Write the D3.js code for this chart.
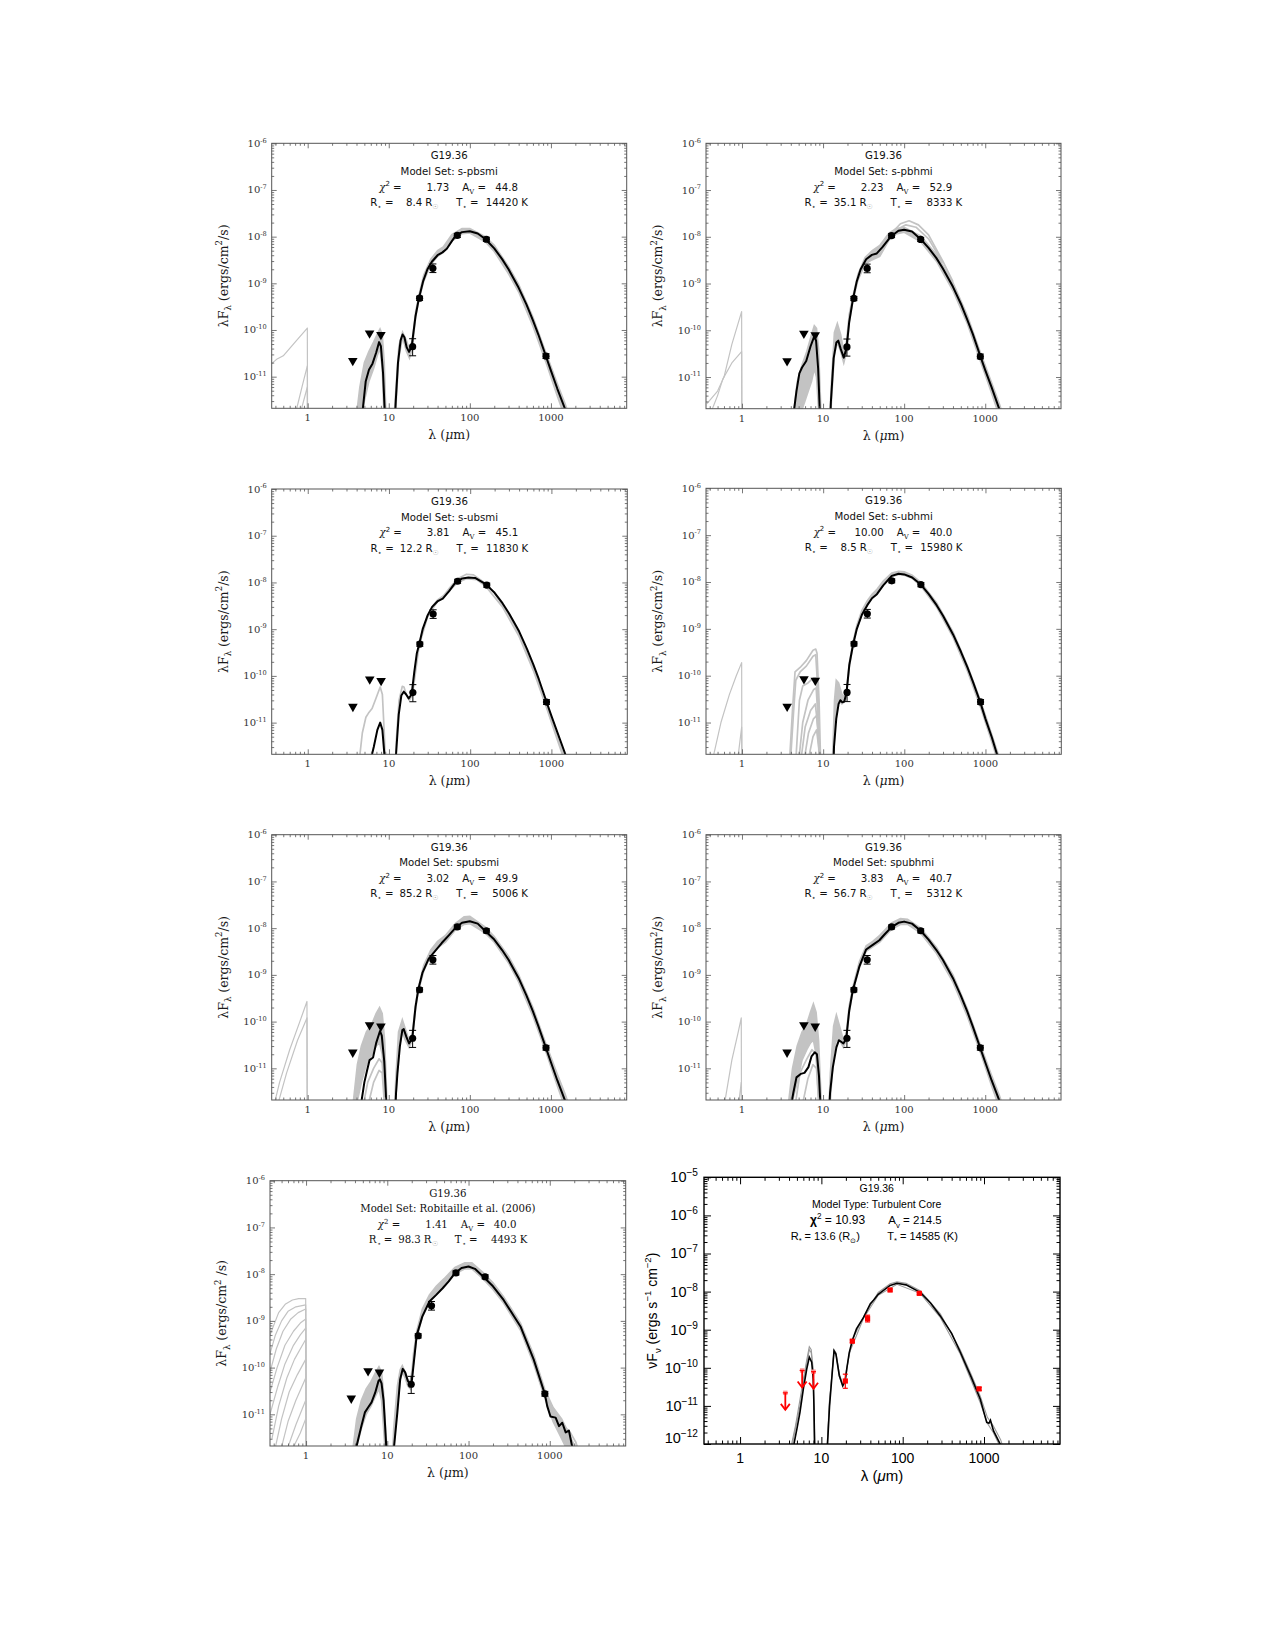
<!DOCTYPE html>
<html>
<head>
<meta charset="utf-8">
<script src="https://cdnjs.cloudflare.com/ajax/libs/d3/7.8.5/d3.min.js"></script>
<style>
body { margin: 0; background: #fff; }
text { white-space: pre; }
</style>
</head>
<body>
<svg id="fig" width="1275" height="1650"></svg>
<script>
/*global d3*/
// ---------- observations (shared by the Robitaille-fitter panels) ----------
var limWave = [3.6, 5.8, 8.0],
    limFlux = [2.2e-11, 8.5e-11, 7.9e-11],
    obsWave = [19.7, 24, 35, 70, 160, 870],
    obsFlux = [4.4e-11, 4.8e-10, 2.1e-9, 1.06e-8, 8.8e-9, 2.75e-11],
    obsLo = [2.8e-11, 4.3e-10, 1.7e-9, 9.6e-9, 7.9e-9, 2.45e-11],
    obsHi = [6.5e-11, 5.3e-10, 2.6e-9, 1.17e-8, 9.7e-9, 3.1e-11];

// observations as plotted by the turbulent core fitter
var ztWave = [19.7, 24, 37, 70, 160, 870],
    ztFlux = [4.5e-11, 5.0e-10, 1.95e-9, 1.1e-8, 9.0e-9, 2.8e-11],
    ztLo = [2.9e-11, 4.6e-10, 1.6e-9, 1.03e-8, 8.5e-9, 2.55e-11],
    ztHi = [6.8e-11, 5.4e-10, 2.4e-9, 1.17e-8, 9.5e-9, 3.05e-11];

// ---------- fit annotations ----------
var sourceName = "G19.36",
    modelSets = ["s-pbsmi", "s-pbhmi", "s-ubsmi", "s-ubhmi", "spubsmi", "spubhmi", "Robitaille et al. (2006)"],
    chi2 = ["1.73", "2.23", "3.81", "10.00", "3.02", "3.83", "1.41"],
    avFit = ["44.8", "52.9", "45.1", "40.0", "49.9", "40.7", "40.0"],
    rStar = ["8.4", "35.1", "12.2", "8.5", "85.2", "56.7", "98.3"],
    tStar = ["14420", "8333", "11830", "15980", "5006", "5312", "4493"],
    ztType = "Turbulent Core", ztChi2 = "10.93", ztAv = "214.5", ztR = "13.6", ztT = "14585";

// ---------- tick labels ----------
var xMajor = [1, 10, 100, 1000],
    yExpSed = [-6, -7, -8, -9, -10, -11],
    yExpZt = [-5, -6, -7, -8, -9, -10, -11, -12];

// ---------- panel 1 : s-pbsmi ----------
var best1 = [[4.7,1.5e-12],[5.2,8e-12],[5.7,1.4e-11],[6.3,1.9e-11],[7.0,3.3e-11],[7.6,5.5e-11],[8.0,4.5e-11],[8.5,1.2e-11],[8.9,2e-12],[9.3,5e-13],
    [11.6,5e-13],[12.2,3e-12],[13.0,2e-11],[14.0,6e-11],[14.8,8e-11],[15.6,7e-11],[16.6,4.3e-11],[17.8,3.4e-11],[19.2,4.5e-11],[21.4,2e-10],[23.5,4.7e-10],
    [26.5,1.1e-9],[30,2e-9],[34,2.9e-9],[40,4e-9],[46,4.6e-9],[52,5.5e-9],[60,8e-9],[67,1.05e-8],[80,1.25e-8],[100,1.3e-8],[125,1.17e-8],[155,8.9e-9],
    [200,5.6e-9],[250,3.3e-9],[300,2e-9],[400,8e-10],[500,3.5e-10],[600,1.6e-10],[700,8e-11],[870,2.7e-11],[1000,1.35e-11],[1200,5.5e-12],[1500,2e-12],[1700,1e-12]];
var band1 = [[4.0,1e-12,1.5e-12],[4.4,1e-12,6e-12],[5.0,3e-12,2e-11],[5.7,8e-12,3.5e-11],[6.5,1.5e-11,5.5e-11],[7.3,3e-11,8.5e-11],[7.8,4e-11,1.05e-10],[8.3,1.5e-11,8e-11],[8.8,1e-12,2e-11],[9.3,5e-13,1e-12],
    [11.5,5e-13,1e-12],[12.2,2e-12,5e-12],[13.3,2.5e-11,4.5e-11],[14.8,7e-11,9e-11],[16.5,3.5e-11,6e-11],[18,2.5e-11,3.8e-11],[19.5,4e-11,6e-11],[21.4,1.8e-10,2.4e-10],
    [23.5,4.3e-10,5.5e-10],[27,1.1e-9,1.5e-9],[33,2.5e-9,3.3e-9],[40,3.8e-9,5e-9],[47,4.6e-9,6e-9],[60,8e-9,1.1e-8],[80,1.15e-8,1.5e-8],[100,1.2e-8,1.5e-8],
    [155,7.8e-9,1e-8],[200,4.8e-9,6.5e-9],[300,1.6e-9,2.3e-9],[400,6.5e-10,9.5e-10],[600,1.2e-10,1.9e-10],[870,2e-11,3.2e-11],[1200,3.8e-12,7e-12],[1500,1.3e-12,2.6e-12],[1800,5e-13,1e-12]];
var grey1 = [
    [[0.36,1.9e-11],[0.42,2.4e-11],[0.5,2.8e-11],[0.7,5.5e-11],[0.99,1.1e-10],[1.0,1e-13]],
    [[0.7,1.5e-12],[0.85,6e-12],[0.99,1.7e-11],[1.0,1e-13]],
    [[0.8,1.5e-12],[0.99,6e-12],[1.0,1e-13]]];

// ---------- panel 2 : s-pbhmi ----------
var best2 = [[4.3,1.5e-12],[4.7,5e-12],[5.1,1.2e-11],[5.5,1.6e-11],[6.2,2.2e-11],[7.0,4.5e-11],[7.8,7.5e-11],[8.2,6e-11],[8.7,1.5e-11],[9.1,2e-12],[9.5,5e-13],
    [12,5e-13],[12.5,3e-12],[13.5,2.5e-11],[14.6,5.5e-11],[15.4,6e-11],[16.5,4e-11],[18,2.6e-11],[19.5,4.2e-11],[21,1.5e-10],[23.4,4.7e-10],[26,1.1e-9],
    [29,2e-9],[34,3.3e-9],[40,4.1e-9],[46,4.4e-9],[54,6e-9],[68,1e-8],[85,1.35e-8],[100,1.42e-8],[125,1.3e-8],[160,8.9e-9],[200,5.8e-9],[250,3.5e-9],
    [300,2.1e-9],[400,8.5e-10],[500,3.7e-10],[600,1.7e-10],[700,8.5e-11],[870,2.8e-11],[1000,1.4e-11],[1200,6e-12],[1500,2e-12],[1700,1e-12]];
var band2 = [[4.3,1e-12,1.5e-12],[4.8,1e-12,8e-12],[5.5,2e-12,1.8e-11],[6.3,4e-12,3.5e-11],[7.2,8e-12,8e-11],[7.8,1.5e-11,1.25e-10],[8.3,1e-11,1.1e-10],[8.8,2e-12,4e-11],[9.4,5e-13,2e-12],
    [12,5e-13,1e-12],[12.7,3e-12,8e-12],[13.8,3e-11,9e-11],[15,5.5e-11,1.4e-10],[16.5,3.5e-11,8e-11],[18,2e-11,3.5e-11],[19.5,3.5e-11,6e-11],[21,1.4e-10,2.2e-10],
    [23.4,4.3e-10,5.5e-10],[27,1.2e-9,1.6e-9],[33,2.6e-9,3.6e-9],[40,3.2e-9,5e-9],[50,3.8e-9,6.5e-9],[65,8.5e-9,1.2e-8],[80,1.15e-8,1.5e-8],[100,1.25e-8,1.6e-8],
    [160,7.8e-9,1.05e-8],[250,3e-9,4.2e-9],[400,7e-10,1.05e-9],[600,1.4e-10,2.1e-10],[870,2.2e-11,3.4e-11],[1200,4.5e-12,7.5e-12],[1500,1.4e-12,2.6e-12],[1800,5e-13,1e-12]];
var grey2 = [
    [[0.37,2.7e-12],[0.5,5e-12],[0.6,1e-11],[0.75,5e-11],[0.99,2.5e-10],[1.0,1e-13]],
    [[0.4,1.5e-12],[0.5,4e-12],[0.58,9e-12],[0.75,2e-11],[0.99,3.5e-11],[1.0,1e-13]],
    [[40,4e-9],[55,6e-9],[70,1.2e-8],[90,1.9e-8],[115,2.2e-8],[150,1.8e-8],[200,1.1e-8],[300,3e-9],[400,1.1e-9]],
    [[45,4.5e-9],[60,8e-9],[80,1.4e-8],[105,1.8e-8],[140,1.6e-8],[200,9e-9],[300,2.8e-9]]];

// ---------- panel 3 : s-ubsmi ----------
var best3 = [[5.9,1.5e-12],[6.5,3e-12],[7.2,7e-12],[7.8,1e-11],[8.3,7e-12],[8.8,2e-12],[9.1,5e-13],
    [11.8,5e-13],[12.2,2e-12],[13.2,1.5e-11],[14.2,3.8e-11],[15.2,4.6e-11],[16.3,4e-11],[17.5,3.3e-11],[19,4e-11],[20.5,1.2e-10],[22,3e-10],[23.5,4.7e-10],
    [26,1e-9],[30,2e-9],[34,3e-9],[40,4e-9],[46,4.5e-9],[55,6.5e-9],[66,1e-8],[80,1.22e-8],[95,1.28e-8],[115,1.25e-8],[155,9.2e-9],[200,6e-9],[250,3.6e-9],
    [300,2.2e-9],[400,9e-10],[500,3.8e-10],[600,1.75e-10],[700,8.5e-11],[870,2.8e-11],[1000,1.4e-11],[1200,5.8e-12],[1500,2e-12],[1700,1e-12]];
var band3 = [];
var grey3 = [
    [[4.3,1.5e-12],[4.7,6e-12],[5.2,1.3e-11],[5.6,1.6e-11],[6.2,2e-11],[7.0,3.5e-11],[7.8,5.8e-11],[8.3,4e-11],[8.8,5e-12],[9.1,1e-12],[9.5,4e-13],
     [11.8,4e-13],[12.3,4e-12],[13.3,3e-11],[14.6,6e-11],[15.3,5.8e-11],[16.5,3.8e-11],[17.8,3e-11],[19.5,4e-11],[21,1.5e-10],[23.5,4.5e-10],[26,9.5e-10],
     [30,1.9e-9],[35,3.2e-9],[40,4.3e-9],[47,5.2e-9],[57,8e-9],[70,1.2e-8],[90,1.5e-8],[110,1.45e-8],[155,9.5e-9],[200,5.9e-9],[250,3.3e-9],[300,2e-9],
     [400,7.8e-10],[600,1.45e-10],[870,2.3e-11],[1000,1.1e-11],[1200,4.5e-12],[1500,1.5e-12],[1700,7e-13]],
    [[19.5,4e-11],[23.5,4.4e-10],[30,1.9e-9],[40,4e-9],[55,6.5e-9],[70,1e-8],[90,1.2e-8],[120,1.15e-8],[155,8.3e-9],[250,3e-9],[400,7e-10],[600,1.3e-10],
     [870,2.1e-11],[1200,4e-12],[1500,1.3e-12]]];

// ---------- panel 4 : s-ubhmi ----------
var best4 = [[13.2,5e-13],[13.6,3e-12],[14.5,1.2e-11],[15.5,2.5e-11],[16.3,3e-11],[17.2,2.7e-11],[18.2,2.8e-11],[19.4,4.3e-11],[21,1.7e-10],[23.4,4.7e-10],
    [26,1e-9],[30,2e-9],[35,3.2e-9],[40,4.5e-9],[46,5.5e-9],[55,8.5e-9],[70,1.35e-8],[85,1.5e-8],[100,1.45e-8],[125,1.25e-8],[160,8.8e-9],[200,5.5e-9],
    [250,3.2e-9],[300,1.9e-9],[400,7.5e-10],[500,3.2e-10],[600,1.5e-10],[700,7.5e-11],[870,2.6e-11],[1000,1.2e-11],[1200,4.8e-12],[1400,2e-12],[1600,9e-13]];
var band4 = [[12.8,5e-13,1e-12],[13.2,1e-12,3e-12],[13.8,5e-12,3e-11],[14.5,2e-11,8e-11],[15.5,3e-11,7e-11],[17,2.5e-11,4e-11],[18.5,2.8e-11,3.5e-11],[19.4,4e-11,5e-11],
    [21,1.5e-10,1.9e-10],[23.4,4.4e-10,5.3e-10],[26,1e-9,1.2e-9],[30,2e-9,2.5e-9],[35,3.3e-9,4e-9],[40,4.6e-9,5.5e-9],[46,5.8e-9,7e-9],[55,8.5e-9,1.05e-8],
    [70,1.3e-8,1.55e-8],[85,1.45e-8,1.7e-8],[100,1.4e-8,1.65e-8],[125,1.2e-8,1.4e-8],[160,8.2e-9,9.8e-9],[250,2.9e-9,3.6e-9],[400,6.5e-10,8.5e-10],
    [600,1.25e-10,1.65e-10],[870,2.1e-11,2.9e-11],[1200,3.8e-12,5.5e-12],[1400,1.6e-12,2.4e-12],[1700,5e-13,9e-13]];
var grey4 = [
    [[0.43,1.5e-12],[0.55,1e-11],[0.7,4e-11],[0.85,1e-10],[0.99,1.9e-10],[1.0,1e-13]],
    [[0.88,1.5e-12],[0.99,8e-12],[1.0,1e-13]],
    [[3.8,1e-12],[4.2,2e-11],[4.5,1.2e-10],[5.2,1.5e-10],[6.2,2.1e-10],[7.5,3.5e-10],[8.1,3.7e-10],[8.4,3e-10],[8.9,3e-11],[9.3,1.5e-12]],
    [[3.9,1e-12],[4.3,1.5e-11],[4.6,8e-11],[5.2,1.2e-10],[6.2,1.6e-10],[7.5,2.6e-10],[8.1,2.8e-10],[8.6,5e-11],[9.1,1.5e-12]],
    [[4.6,1.5e-12],[5.1,3e-11],[5.6,6e-11],[6.5,7e-11],[7.6,9e-11],[8.2,9e-11],[8.7,2e-11],[9.1,1.5e-12]],
    [[5.0,1.5e-12],[5.6,1e-11],[6.5,3e-11],[7.6,5e-11],[8.2,5.5e-11],[8.7,1e-11],[9.1,1.5e-12]],
    [[5.3,1.5e-12],[6.0,8e-12],[7.0,1.8e-11],[8.0,2.5e-11],[8.6,8e-12],[9.0,1.5e-12]],
    [[5.8,1.5e-12],[6.6,6e-12],[7.6,1.2e-11],[8.3,1.4e-11],[8.8,4e-12],[9.1,1.5e-12]],
    [[6.5,1.5e-12],[7.5,5e-12],[8.3,7e-12],[8.8,3e-12],[9.0,1.5e-12]]];

// ---------- panel 5 : spubsmi ----------
var best5 = [[4.5,1.5e-12],[5.0,5e-12],[5.4,9e-12],[5.8,1.5e-11],[6.4,1.7e-11],[7.0,3.5e-11],[7.8,6.3e-11],[8.2,5e-11],[8.8,1.4e-11],[9.2,3e-12],[9.5,5e-13],
    [11.8,5e-13],[12.3,3e-12],[12.8,8e-12],[13.7,2.9e-11],[14.7,6.6e-11],[15.3,6.9e-11],[16.5,4.7e-11],[17.8,3.4e-11],[19.5,4.4e-11],[21.4,2.1e-10],[23.2,5e-10],
    [26,1.1e-9],[31,2.2e-9],[37,3.2e-9],[45,4.8e-9],[55,7e-9],[66,1e-8],[80,1.3e-8],[100,1.4e-8],[125,1.25e-8],[155,8.7e-9],[200,5.7e-9],[250,3.4e-9],
    [300,2.1e-9],[400,8.5e-10],[500,3.6e-10],[600,1.65e-10],[700,8e-11],[870,2.7e-11],[1000,1.35e-11],[1200,5.5e-12],[1500,2e-12],[1700,1e-12]];
var band5 = [[3.6,1e-12,1.5e-12],[4.1,2e-12,1.2e-11],[4.6,5e-12,3e-11],[5.3,1.2e-11,6e-11],[6.2,2e-11,9e-11],[7.0,3e-11,1.5e-10],[7.7,3.5e-11,2e-10],[8.3,2e-11,1.5e-10],[8.9,2e-12,4e-11],[9.5,5e-13,2e-12],
    [11.7,5e-13,1e-12],[12.2,2e-12,6e-12],[13.2,2.5e-11,6e-11],[14.7,6e-11,1.1e-10],[16,4e-11,7e-11],[17.8,2.8e-11,4e-11],[19.5,4e-11,5.5e-11],[21.4,1.8e-10,2.4e-10],
    [23.2,4.5e-10,5.5e-10],[27,1.2e-9,1.6e-9],[33,2.6e-9,3.4e-9],[40,3.8e-9,5.2e-9],[50,5e-9,7e-9],[66,9e-9,1.25e-8],[85,1.2e-8,1.75e-8],[100,1.25e-8,1.8e-8],
    [155,7.8e-9,1.05e-8],[200,5e-9,6.6e-9],[300,1.8e-9,2.5e-9],[400,7e-10,1e-9],[600,1.3e-10,2e-10],[870,2.2e-11,3.3e-11],[1200,4.2e-12,7.5e-12],[1500,1.4e-12,2.8e-12],[1800,5e-13,1.1e-12]];
var grey5 = [
    [[0.38,1.5e-12],[0.45,5e-12],[0.6,2.5e-11],[0.8,1e-10],[0.98,2.7e-10],[0.99,1e-13]],
    [[0.42,1.5e-12],[0.55,8e-12],[0.75,4e-11],[0.98,1.2e-10],[0.99,1e-13]],
    [[4.8,1.5e-12],[5.5,5e-12],[6.5,1e-11],[7.6,1.6e-11],[8.3,1.3e-11],[8.8,3e-12],[9.0,1.5e-12]],
    [[5.5,1.5e-12],[6.5,5e-12],[7.6,9e-12],[8.3,8e-12],[8.9,1.5e-12]]];

// ---------- panel 6 : spubhmi ----------
var best6 = [[4.0,1.5e-12],[4.3,3e-12],[4.7,6.4e-12],[5.3,7.6e-12],[5.9,8e-12],[6.6,1.06e-11],[7.2,1.8e-11],[7.9,2.2e-11],[8.4,2e-11],[8.9,7e-12],[9.3,1.5e-12],[9.6,5e-13],
    [11.6,5e-13],[12.2,3e-12],[13.2,1.05e-11],[14.6,2.8e-11],[15.7,4e-11],[16.7,3.7e-11],[17.8,3.4e-11],[19.3,4.3e-11],[21,1.7e-10],[23.3,4.7e-10],[28,1.5e-9],
    [34,3.5e-9],[41,4.4e-9],[49.5,5.5e-9],[58,7.5e-9],[70,1.05e-8],[85,1.3e-8],[100,1.38e-8],[125,1.25e-8],[160,8.8e-9],[200,5.7e-9],[250,3.4e-9],[300,2.1e-9],
    [400,8.5e-10],[500,3.6e-10],[600,1.65e-10],[700,8e-11],[870,2.7e-11],[1000,1.35e-11],[1200,5.5e-12],[1500,2e-12],[1700,1e-12]];
var band6 = [[3.7,1e-12,1.5e-12],[4.2,2e-12,1e-11],[4.8,5e-12,3e-11],[5.5,1.5e-11,6e-11],[6.3,2.5e-11,9e-11],[7.0,3.5e-11,1.6e-10],[7.6,4e-11,2.4e-10],[8.2,2e-11,1.6e-10],[8.8,2e-12,4e-11],[9.5,5e-13,2e-12],
    [11.7,5e-13,1e-12],[12.3,2e-12,8e-12],[13.5,2e-11,8e-11],[14.6,4e-11,1.4e-10],[16,4e-11,8e-11],[17.8,2.8e-11,4e-11],[19.3,4e-11,5.5e-11],[21,1.5e-10,2.2e-10],
    [23.3,4.3e-10,5.5e-10],[28,1.4e-9,1.9e-9],[34,3.2e-9,4.2e-9],[41,4e-9,5.2e-9],[50,5e-9,7e-9],[70,9.5e-9,1.3e-8],[90,1.2e-8,1.6e-8],[110,1.2e-8,1.55e-8],
    [160,7.8e-9,1e-8],[250,2.9e-9,3.9e-9],[400,7e-10,1e-9],[600,1.3e-10,1.9e-10],[870,2.2e-11,3.2e-11],[1200,4.2e-12,7e-12],[1500,1.4e-12,2.6e-12],[1800,5e-13,1e-12]];
var grey6 = [
    [[0.6,1.5e-12],[0.75,1.5e-11],[0.9,6e-11],[0.98,1.2e-10],[0.99,1e-13]],
    [[0.9,1.5e-12],[0.98,5e-12],[0.99,1e-13]],
    [[4.5,1.5e-12],[5.2,8e-12],[6.2,1.5e-11],[7.3,2.5e-11],[8.2,2e-11],[8.9,3e-12],[9.1,1.5e-12]],
    [[5.5,1.5e-12],[6.5,6e-12],[7.5,1.2e-11],[8.3,1e-11],[8.9,1.5e-12]]];

// ---------- panel 7 : Robitaille et al. (2006) ----------
var best7 = [[4.0,1.5e-12],[4.4,3e-12],[4.8,5.6e-12],[5.3,1.1e-11],[5.8,1.4e-11],[6.4,1.8e-11],[7.1,2.9e-11],[7.8,5.2e-11],[8.1,5.6e-11],[8.5,4.6e-11],[9.0,2e-11],[9.4,5.6e-12],[9.8,1.5e-12],[10.2,5e-13],
    [11.7,5e-13],[12.1,2e-12],[13.3,1.1e-11],[14.4,5.6e-11],[15.5,9.4e-11],[16.6,7.9e-11],[17.9,5.2e-11],[19.2,4.4e-11],[20,5e-11],[21,1.1e-10],[23,4.9e-10],
    [27,1.25e-9],[33,2.6e-9],[40,3.6e-9],[48,5e-9],[57,7e-9],[68,1.05e-8],[82,1.35e-8],[100,1.46e-8],[120,1.3e-8],[150,9e-9],[200,5.5e-9],[270,2.8e-9],
    [436,7.6e-10],[633,1.5e-10],[870,2.7e-11],[930,1.5e-11],[1020,9e-12],[1180,8.5e-12],[1300,5.6e-12],[1425,6.6e-12],[1570,4.1e-12],[1720,4.5e-12],[1890,2e-12],[2000,1e-12]];
var band7 = [[3.8,1e-12,2e-12],[4.2,2e-12,8e-12],[4.8,5e-12,2e-11],[5.5,1e-11,3.5e-11],[6.3,1.5e-11,5e-11],[7.2,2.5e-11,8e-11],[7.9,3.5e-11,1.05e-10],[8.5,2e-11,8e-11],[9.0,5e-12,3e-11],[9.6,1e-12,4e-12],[10.2,5e-13,1e-12],
    [11.5,5e-13,1e-12],[12,2e-12,5e-12],[13.3,1.5e-11,4e-11],[14.4,5e-11,9e-11],[15.3,8e-11,1.1e-10],[16.6,6e-11,8e-11],[17.9,4e-11,5.5e-11],[19.2,3.5e-11,5e-11],
    [20.2,6e-11,9e-11],[21,1.2e-10,2e-10],[23,4.3e-10,6e-10],[27,1.2e-9,1.8e-9],[33,2.6e-9,3.6e-9],[40,3.6e-9,5.5e-9],[50,5.5e-9,8e-9],[68,1e-8,1.4e-8],
    [90,1.3e-8,1.75e-8],[110,1.3e-8,1.75e-8],[150,8e-9,1.1e-8],[200,4.7e-9,6.5e-9],[270,2.4e-9,3.3e-9],[436,6.3e-10,9e-10],[633,1.2e-10,1.9e-10],
    [870,2.2e-11,3.4e-11],[1100,7e-12,1.4e-11],[1400,3e-12,8e-12],[1700,1.5e-12,4e-12],[2000,1e-12,2.2e-12],[2300,5e-13,1e-12]];
var grey7 = [
    [[0.36,5e-10],[0.4,8e-10],[0.46,1.5e-9],[0.56,2.3e-9],[0.68,2.8e-9],[0.81,3e-9],[0.99,3e-9],[1.0,1e-13]],
    [[0.36,2e-10],[0.42,5e-10],[0.5,1e-9],[0.6,1.6e-9],[0.75,2e-9],[0.99,2.2e-9],[1.0,1e-13]],
    [[0.36,8e-11],[0.43,2.5e-10],[0.52,6e-10],[0.65,1.1e-9],[0.8,1.5e-9],[0.99,1.8e-9],[1.0,1e-13]],
    [[0.36,3e-11],[0.44,1e-10],[0.55,3e-10],[0.7,6e-10],[0.85,9e-10],[0.99,1.1e-9],[1.0,1e-13]],
    [[0.36,1e-11],[0.45,4e-11],[0.55,1.2e-10],[0.7,3e-10],[0.85,5e-10],[0.99,7e-10],[1.0,1e-13]],
    [[0.38,3e-12],[0.46,1.5e-11],[0.58,6e-11],[0.72,1.5e-10],[0.88,2.8e-10],[0.99,4e-10],[1.0,1e-13]],
    [[0.42,2e-12],[0.5,8e-12],[0.62,3e-11],[0.78,7e-11],[0.99,1.5e-10],[1.0,1e-13]],
    [[0.5,2e-12],[0.6,7e-12],[0.75,2e-11],[0.99,6e-11],[1.0,1e-13]],
    [[0.6,2e-12],[0.75,6e-12],[0.99,2e-11],[1.0,1e-13]],
    [[0.7,2e-12],[0.85,4e-12],[0.99,8e-12],[1.0,1e-13]],
    [[870,3e-11],[1000,1.8e-11],[1200,1e-11],[1400,7e-12],[1600,5e-12],[1800,4e-12],[2100,2.5e-12],[2300,1.5e-12]]];

// ---------- panel 8 : turbulent core ----------
var best8 = [[4.6,1e-12],[5.0,2.5e-12],[5.45,6.8e-12],[6.0,2.8e-11],[6.6,9.3e-11],[7.1,1.9e-10],[7.6,1.4e-10],[7.95,5e-11],[8.1,1e-11],[8.25,1e-12],[8.4,3e-13],
    [11.6,3e-13],[11.9,1e-12],[12.6,1e-11],[13.4,5.1e-11],[14.3,2.8e-10],[15.1,2.3e-10],[16.6,6.3e-11],[18.3,3.4e-11],[19.6,4.5e-11],[20.5,9.3e-11],[22,2.5e-10],
    [24,5.2e-10],[27,1.05e-9],[33,2.1e-9],[40,4.8e-9],[44,6e-9],[50,8.5e-9],[70,1.45e-8],[85,1.65e-8],[110,1.5e-8],[164,9.6e-9],[220,5e-9],[290,2.3e-9],
    [400,8e-10],[510,2.6e-10],[700,5.5e-11],[900,1.5e-11],[1080,3.7e-12],[1150,3.5e-12],[1200,4.2e-12],[1310,2.2e-12],[1580,1e-12],[1700,6e-13]];
var grey8 = [
    [[4.3,1e-12],[4.8,3e-12],[5.4,1.3e-11],[6.0,5e-11],[6.6,1.6e-10],[7.1,3.6e-10],[7.5,3e-10],[7.9,1e-10],[8.1,1e-11],[8.3,1e-12],[8.5,3e-13],
     [11.5,3e-13],[11.8,1e-12],[12.5,1.2e-11],[13.4,6e-11],[14.3,3e-10],[15.1,2.5e-10],[16.6,7e-11],[18.3,3.6e-11],[19.6,4.8e-11],[20.5,1e-10],[24,5.4e-10],
     [33,2.2e-9],[50,9.5e-9],[70,1.6e-8],[85,1.8e-8],[110,1.65e-8],[164,1.05e-8],[290,2.6e-9],[510,3e-10],[700,6.5e-11],[900,1.8e-11],[1100,5e-12],[1300,3e-12],[1600,1.3e-12],[1800,6e-13]],
    [[4.4,1e-12],[5.0,4e-12],[5.5,1.1e-11],[6.0,4e-11],[6.6,1.3e-10],[7.1,3e-10],[7.5,2.5e-10],[7.9,8e-11],[8.2,1e-12],[8.4,3e-13],
     [11.6,3e-13],[12,2e-12],[12.8,1.8e-11],[13.6,8e-11],[14.3,2.6e-10],[15.2,2.1e-10],[16.6,6e-11],[18.3,3.2e-11],[19.6,4.3e-11],[22,2.4e-10],[33,2e-9],
     [50,8e-9],[85,1.55e-8],[164,9e-9],[290,2.1e-9],[510,2.3e-10],[700,4.5e-11],[900,1.2e-11],[1100,3.5e-12],[1300,2e-12],[1600,8e-13]]];

// ---------- layout ----------
var SERIF = "'DejaVu Serif', serif",
    SANS = "'DejaVu Sans', sans-serif",
    HERSHEY = "'Liberation Sans', sans-serif",
    GREY = "#c3c3c3",
    xDomain = [0.36, 8600],
    sedYDomain = [2.1e-12, 1e-6],
    ztYDomain = [1e-12, 1e-5];

var sedPanels = [
    {x: 271.7, y: 143.3, w: 355, h: 265, best: best1, band: band1, grey: grey1},
    {x: 706, y: 143.3, w: 355, h: 265.4, best: best2, band: band2, grey: grey2},
    {x: 271.7, y: 489, w: 355.6, h: 265.3, best: best3, band: band3, grey: grey3},
    {x: 706, y: 488.3, w: 355.3, h: 266, best: best4, band: band4, grey: grey4},
    {x: 271.7, y: 834.7, w: 355, h: 265.3, best: best5, band: band5, grey: grey5},
    {x: 706, y: 834.7, w: 355, h: 265.3, best: best6, band: band6, grey: grey6},
    {x: 270, y: 1180.7, w: 355.7, h: 265.3, best: best7, band: band7, grey: grey7, serif: true}
];

var svg = d3.select("#fig");
svg.append("rect").attr("width", 1275).attr("height", 1650).attr("fill", "#fff");

// text with super/subscripts; parts are strings or {t, sup, sub, it, fill, ff}
function rich(t, parts, base) {
    var shift = 0;
    parts.forEach(function (p) {
        var s = typeof p === "string" ? {t: p} : p,
            target = s.sup ? -base * 0.42 : (s.sub ? base * 0.3 : 0),
            ts = t.append("tspan").attr("dy", target - shift).text(s.t);
        shift = target;
        if (s.sup || s.sub) { ts.attr("font-size", base * (s.scale || 0.68)); }
        if (s.it) { ts.attr("font-style", "italic"); }
        if (s.bold) { ts.attr("font-weight", "bold"); }
        if (s.fill) { ts.attr("fill", s.fill); }
        if (s.ff) { ts.attr("font-family", s.ff); }
    });
    return t;
}

// inward major/minor ticks on all four sides from the log scales
function logTicks(g, x, y, w, h, majLen, minLen, color, width) {
    var isMaj = function (v) { return Math.abs(Math.log10(v) - Math.round(Math.log10(v))) < 1e-9; },
        xs = x.ticks(), ys = y.ticks(),
        sides = [[d3.axisBottom(x), 0, h, xs], [d3.axisTop(x), 0, 0, xs], [d3.axisLeft(y), 0, 0, ys], [d3.axisRight(y), w, 0, ys]];
    sides.forEach(function (s) {
        [true, false].forEach(function (m) {
            var vals = s[3].filter(function (v) { return isMaj(v) === m; }),
                a = g.append("g").attr("transform", "translate(" + s[1] + "," + s[2] + ")")
                    .call(s[0].tickValues(vals).tickSize(-(m ? majLen : minLen)).tickSizeOuter(0).tickFormat(""));
            a.select(".domain").remove();
            a.selectAll("line").attr("stroke", color).attr("stroke-width", width);
        });
    });
}

function sedPanel(cfg, k) {
    var g = svg.append("g").attr("transform", "translate(" + cfg.x + "," + cfg.y + ")"),
        x = d3.scaleLog().domain(xDomain).range([0, cfg.w]),
        y = d3.scaleLog().domain(sedYDomain).range([cfg.h, 0]),
        ff = cfg.serif ? SERIF : SANS,
        cx = cfg.w / 2,
        line = d3.line().x(function (d) { return x(d[0]); }).y(function (d) { return y(d[1]); }),
        area = d3.area().x(function (d) { return x(d[0]); }).y0(function (d) { return y(d[1]); }).y1(function (d) { return y(d[2]); });

    g.append("clipPath").attr("id", "clip" + k).append("rect").attr("width", cfg.w).attr("height", cfg.h);
    var plot = g.append("g").attr("clip-path", "url(#clip" + k + ")");
    if (cfg.band.length) {
        plot.append("path").attr("d", area(cfg.band)).attr("fill", GREY).attr("stroke", GREY).attr("stroke-width", 1.6);
    }
    cfg.grey.forEach(function (c) {
        plot.append("path").attr("d", line(c)).attr("fill", "none").attr("stroke", GREY)
            .attr("stroke-width", c[0][0] < 1 ? 1.2 : 1.7).attr("stroke-linejoin", "round");
    });
    plot.append("path").attr("d", line(cfg.best)).attr("fill", "none").attr("stroke", "#000")
        .attr("stroke-width", 2).attr("stroke-linejoin", "round");

    // detections with error bars
    obsWave.forEach(function (wv, i) {
        var px = x(wv);
        g.append("line").attr("x1", px).attr("x2", px).attr("y1", y(obsLo[i])).attr("y2", y(obsHi[i])).attr("stroke", "#000");
        [obsLo[i], obsHi[i]].forEach(function (v) {
            g.append("line").attr("x1", px - 3.5).attr("x2", px + 3.5).attr("y1", y(v)).attr("y2", y(v)).attr("stroke", "#000");
        });
        g.append("circle").attr("cx", px).attr("cy", y(obsFlux[i])).attr("r", 3.6).attr("fill", "#000");
    });
    // upper limits
    limWave.forEach(function (wv, i) {
        g.append("path").attr("d", d3.symbol().type(d3.symbolTriangle).size(40)())
            .attr("transform", "translate(" + x(wv) + "," + y(limFlux[i]) + ") rotate(180)").attr("fill", "#000");
    });

    g.append("rect").attr("width", cfg.w).attr("height", cfg.h).attr("fill", "none").attr("stroke", "#555").attr("stroke-width", 1);
    logTicks(g, x, y, cfg.w, cfg.h, 5, 2.5, "#555", 0.8);

    yExpSed.forEach(function (e) {
        rich(g.append("text").attr("x", -5).attr("y", y(Math.pow(10, e)) + 3.5).attr("text-anchor", "end")
            .attr("font-family", SERIF).attr("font-size", 10).attr("fill", "#333"), ["10", {t: String(e), sup: true, scale: 0.66}], 10);
    });
    xMajor.forEach(function (v) {
        g.append("text").attr("x", x(v)).attr("y", cfg.h + 13).attr("text-anchor", "middle")
            .attr("font-family", SERIF).attr("font-size", 10).attr("fill", "#333").text(v);
    });
    rich(g.append("text").attr("transform", "translate(-44," + (cfg.h / 2) + ") rotate(-90)").attr("text-anchor", "middle")
        .attr("font-family", SERIF).attr("font-size", 12.5).attr("fill", "#1a1a1a"),
        ["λF", {t: "λ", sub: true}, " (ergs/cm", {t: "2", sup: true}, cfg.serif ? " /s)" : "/s)"], 12.5);
    rich(g.append("text").attr("x", cx).attr("y", cfg.h + 31).attr("text-anchor", "middle")
        .attr("font-family", SERIF).attr("font-size", 12.5).attr("fill", "#1a1a1a"), ["λ (", {t: "μ", it: true}, "m)"], 12.5);

    // fit summary
    var base = 10.2;
    function t(px, py, anchor) {
        return g.append("text").attr("x", px).attr("y", py).attr("text-anchor", anchor)
            .attr("font-family", ff).attr("font-size", base).attr("fill", "#111");
    }
    t(cx, 16, "middle").text(sourceName);
    t(cx, 31.6, "middle").text("Model Set: " + modelSets[k]);
    rich(t(cx - 70, 47.3, "start"), [{t: "χ", it: true, ff: SERIF}, {t: "2", sup: true}, " ="], base);
    t(cx, 47.3, "end").text(chi2[k]);
    rich(t(cx + 13, 47.3, "start"), ["A", {t: "V", sub: true, ff: SERIF}, " ="], base);
    t(cx + 46, 47.3, "start").text(avFit[k]);
    rich(t(cx - 79, 62.7, "start"), ["R", {t: "⋆", sub: true}, " ="], base);
    t(cx - 27, 62.7, "end").text(rStar[k]);
    rich(t(cx - 24, 62.7, "start"), ["R", {t: "☉", sub: true, fill: "#aaa"}], base);
    rich(t(cx + 7, 62.7, "start"), ["T", {t: "⋆", sub: true}, " ="], base);
    t(cx + 69, 62.7, "end").text(tStar[k]);
    t(cx + 72, 62.7, "start").text("K");
}

sedPanels.forEach(sedPanel);

// ---------- turbulent core panel ----------
(function () {
    var W = 356, H = 266.7,
        g = svg.append("g").attr("transform", "translate(704,1177.3)"),
        x = d3.scaleLog().domain(xDomain).range([0, W]),
        y = d3.scaleLog().domain(ztYDomain).range([H, 0]),
        line = d3.line().x(function (d) { return x(d[0]); }).y(function (d) { return y(d[1]); }),
        red = "#ff0000";

    g.append("clipPath").attr("id", "clipzt").append("rect").attr("width", W).attr("height", H);
    var plot = g.append("g").attr("clip-path", "url(#clipzt)");
    grey8.forEach(function (c) {
        plot.append("path").attr("d", line(c)).attr("fill", "none").attr("stroke", "#9a9a9a").attr("stroke-width", 1.1);
    });
    plot.append("path").attr("d", line(best8)).attr("fill", "none").attr("stroke", "#000").attr("stroke-width", 1.6);

    ztWave.forEach(function (wv, i) {
        var px = x(wv);
        g.append("line").attr("x1", px).attr("x2", px).attr("y1", y(ztLo[i])).attr("y2", y(ztHi[i])).attr("stroke", red).attr("stroke-width", 1.2);
        [ztLo[i], ztHi[i]].forEach(function (v) {
            g.append("line").attr("x1", px - 2.5).attr("x2", px + 2.5).attr("y1", y(v)).attr("y2", y(v)).attr("stroke", red).attr("stroke-width", 1.2);
        });
        g.append("rect").attr("x", px - 2.6).attr("y", y(ztFlux[i]) - 2.6).attr("width", 5.2).attr("height", 5.2).attr("fill", red);
    });
    limWave.forEach(function (wv, i) {
        var px = x(wv), py = y(limFlux[i]), tip = py + 17;
        g.append("rect").attr("x", px - 2.2).attr("y", py - 2.2).attr("width", 4.4).attr("height", 4.4).attr("fill", "#ff9090");
        g.append("line").attr("x1", px - 2.5).attr("x2", px + 2.5).attr("y1", py).attr("y2", py).attr("stroke", red).attr("stroke-width", 1.2);
        g.append("line").attr("x1", px).attr("x2", px).attr("y1", py).attr("y2", tip).attr("stroke", red).attr("stroke-width", 1.8);
        g.append("path").attr("d", "M" + (px - 4.5) + "," + (tip - 6) + "L" + px + "," + tip + "L" + (px + 4.5) + "," + (tip - 6))
            .attr("fill", "none").attr("stroke", red).attr("stroke-width", 1.8);
    });

    g.append("rect").attr("width", W).attr("height", H).attr("fill", "none").attr("stroke", "#000").attr("stroke-width", 1.4);
    logTicks(g, x, y, W, H, 7, 3.5, "#000", 1);

    yExpZt.forEach(function (e) {
        var py = Math.min(y(Math.pow(10, e)) + 5, H - 1);
        rich(g.append("text").attr("x", -6).attr("y", py).attr("text-anchor", "end")
            .attr("font-family", HERSHEY).attr("font-size", 14.5).attr("fill", "#000"), ["10", {t: "−" + Math.abs(e), sup: true, scale: 0.7}], 14.5);
    });
    xMajor.forEach(function (v) {
        g.append("text").attr("x", x(v)).attr("y", H + 19).attr("text-anchor", "middle")
            .attr("font-family", HERSHEY).attr("font-size", 14).attr("fill", "#000").text(v);
    });
    rich(g.append("text").attr("transform", "translate(-47," + (H / 2) + ") rotate(-90)").attr("text-anchor", "middle")
        .attr("font-family", HERSHEY).attr("font-size", 14).attr("fill", "#000"),
        ["νF", {t: "ν", sub: true}, " (ergs s", {t: "−1", sup: true}, " cm", {t: "−2", sup: true}, ")"], 14);
    rich(g.append("text").attr("x", 178).attr("y", H + 37).attr("text-anchor", "middle")
        .attr("font-family", HERSHEY).attr("font-size", 15).attr("fill", "#000"), ["λ (", {t: "μ", it: true}, "m)"], 15);

    function t(px, py, size, anchor) {
        return g.append("text").attr("x", px).attr("y", py).attr("text-anchor", anchor || "start")
            .attr("font-family", HERSHEY).attr("font-size", size).attr("fill", "#000");
    }
    t(172.7, 15, 10.5, "middle").text(sourceName);
    t(172.7, 31, 10.5, "middle").text("Model Type: " + ztType);
    rich(t(106, 47, 12), [{t: "χ", bold: true}, {t: "2", sup: true}, " = " + ztChi2], 12);
    rich(t(184.3, 47, 11.5), ["A", {t: "v", sub: true}, " = " + ztAv], 11.5);
    rich(t(86.7, 62.7, 11), ["R", {t: "*", sub: true}, " = " + ztR + " (R", {t: "⊙", sub: true}, ")"], 11);
    rich(t(183.3, 62.7, 11), ["T", {t: "*", sub: true}, " = " + ztT + " (K)"], 11);
}());
</script>
</body>
</html>
